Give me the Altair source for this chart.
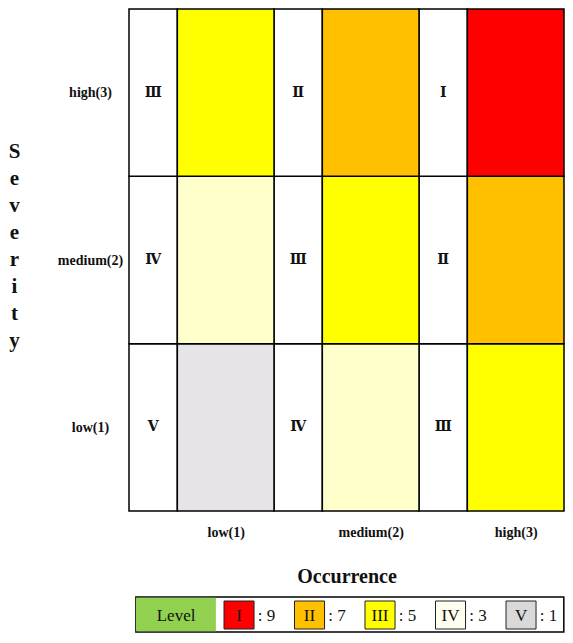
import json
import altair as alt
import pandas as pd

# ---- data ----
occurrence = ["low(1)", "medium(2)", "high(3)"]
severity = ["low(1)", "medium(2)", "high(3)"]
# rows: severity low, medium, high ; cols: occurrence low, medium, high
risk_level = [
    ["V", "IV", "III"],
    ["IV", "III", "II"],
    ["III", "II", "I"],
]
level_names = ["I", "II", "III", "IV", "V"]
level_glyphs = ["Ⅰ", "Ⅱ", "Ⅲ", "Ⅳ", "Ⅴ"]
level_scores = [9, 7, 5, 3, 1]
cell_colors = ["#FF0000", "#FFC000", "#FFFF00", "#FFFFCC", "#E6E4E6"]
legend_colors = ["#FF0000", "#FFC000", "#FFFF00", "#FFFFF0", "#D9D9D9"]
legend_title = "Level"
legend_title_color = "#92D050"

SERIF = "Liberation Serif, Times New Roman, DejaVu Serif"
W, H = 435, 502

# ---- build tables ----
rows = []
for i, sev in enumerate(severity):
    for j, occ in enumerate(occurrence):
        lv = risk_level[i][j]
        k = level_names.index(lv)
        rows.append(dict(
            sev=sev, occ=occ, level=lv, glyph=level_glyphs[k],
            lx0=j, lx1=j + 1 / 3, fx0=j + 1 / 3, fx1=j + 1, tx=j + 1 / 6,
            y0=i, y1=i + 1, ym=i + 0.5,
        ))
cells = pd.DataFrame(rows)

xs = alt.Scale(domain=[0, 3], nice=False, zero=False)
ys = alt.Scale(domain=[0, 3], nice=False, zero=False)
x_axis = alt.Axis(
    values=[2 / 3, 5 / 3, 8 / 3],
    labelExpr=f"{json.dumps(occurrence)}[floor(datum.value)]",
    ticks=False, tickSize=0, domain=False, grid=False,
    labelPadding=21, labelBaseline="middle", labelAlign="center",
    labelFont=SERIF, labelFontWeight="bold", labelFontSize=14, labelColor="#111",
    title="Occurrence", titleFont=SERIF, titleFontWeight="bold", titleFontSize=20,
    titleColor="#111", titleBaseline="middle", titleY=65,
)
y_axis = alt.Axis(
    values=[0.5, 1.5, 2.5],
    labelExpr=f"{json.dumps(severity)}[floor(datum.value)]",
    ticks=False, tickSize=0, domain=False, grid=False,
    labelPadding=39, labelAlign="center", labelBaseline="middle",
    labelFont=SERIF, labelFontWeight="bold", labelFontSize=14, labelColor="#111",
    title=list("Severity"), titleAngle=0, titleAlign="center", titleBaseline="middle",
    titleX=-115, titleY=142, titleLineHeight=27,
    titleFont=SERIF, titleFontWeight="bold", titleFontSize=21, titleColor="#111",
)

color_scale = alt.Scale(domain=level_names, range=cell_colors)
base = alt.Chart(cells)

white = base.mark_rect(fill="white", stroke="black", strokeWidth=1.5).encode(
    x=alt.X("lx0:Q", scale=xs, axis=x_axis), x2="lx1:Q",
    y=alt.Y("y0:Q", scale=ys, axis=y_axis), y2="y1:Q",
)
colored = base.mark_rect(stroke="black", strokeWidth=1.5).encode(
    x=alt.X("fx0:Q", scale=xs, axis=x_axis), x2="fx1:Q",
    y=alt.Y("y0:Q", scale=ys, axis=y_axis), y2="y1:Q",
    fill=alt.Fill("level:N", scale=color_scale, legend=None),
)
glyphs = base.mark_text(font=SERIF, fontWeight="bold", fontSize=14, color="#111").encode(
    x=alt.X("tx:Q", scale=xs, axis=x_axis),
    y=alt.Y("ym:Q", scale=ys, axis=y_axis),
    text="glyph:N",
)
matrix = alt.layer(white, colored, glyphs)

# ---- legend ----
leg = pd.DataFrame(dict(
    name=level_names, score=[f": {s}" for s in level_scores], color=legend_colors,
))
leg["slot"] = range(len(leg))
leg["bx1"] = leg["slot"] + 0.426
leg["bmid"] = leg["slot"] + 0.213
leg["tx"] = leg["slot"] + 0.48
frame = pd.DataFrame(dict(title=[legend_title], x0=[-1.25], x1=[4.82], lx1=[-0.115], lmid=[-0.68]))

ORIGIN, STEP = 95, 70.5
ls = alt.Scale(domain=[-1.25, 4.82],
               range=[ORIGIN - 1.25 * STEP, ORIGIN + 4.82 * STEP], nice=False, zero=False)
TOP, BOT = 588, 623

outer = alt.Chart(frame).mark_rect(fill="white", stroke="black", strokeWidth=1.5).encode(
    x=alt.X("x0:Q", scale=ls, axis=None), x2="x1:Q",
    y=alt.value(TOP), y2=alt.value(BOT),
)
level_cell = alt.Chart(frame).mark_rect(fill=legend_title_color).encode(
    x=alt.X("x0:Q", scale=ls, axis=None), x2="lx1:Q",
    y=alt.value(TOP + 0.75), y2=alt.value(BOT - 0.75),
)
level_text = alt.Chart(frame).mark_text(font=SERIF, fontSize=17, color="#111").encode(
    x=alt.X("lmid:Q", scale=ls, axis=None), y=alt.value((TOP + BOT) / 2 + 1), text="title:N",
)
boxes = alt.Chart(leg).mark_rect(stroke="#222", strokeWidth=1).encode(
    x=alt.X("slot:Q", scale=ls, axis=None), x2="bx1:Q",
    y=alt.value(TOP + 4), y2=alt.value(BOT - 3),
    fill=alt.Fill("color:N", scale=None),
)
box_text = alt.Chart(leg).mark_text(font=SERIF, fontSize=17, color="#111").encode(
    x=alt.X("bmid:Q", scale=ls, axis=None), y=alt.value((TOP + BOT) / 2 + 1), text="name:N",
)
score_text = alt.Chart(leg).mark_text(font=SERIF, fontSize=17, color="#111", align="left").encode(
    x=alt.X("tx:Q", scale=ls, axis=None), y=alt.value((TOP + BOT) / 2 + 1), text="score:N",
)
legend = alt.layer(outer, level_cell, level_text, boxes, box_text, score_text)

chart = alt.layer(matrix, legend).resolve_scale(x="independent").properties(
    width=W, height=H,
    padding={"left": 0, "top": 0, "right": 0, "bottom": 1},
).configure_view(stroke=None)

chart.save("out.html", embed_options={"renderer": "svg", "actions": False})
